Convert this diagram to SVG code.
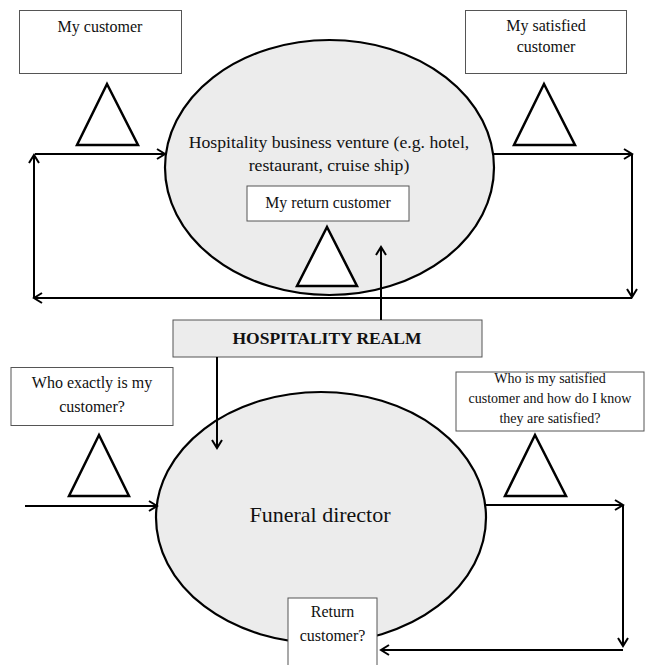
<svg xmlns="http://www.w3.org/2000/svg" width="645" height="665" viewBox="0 0 645 665">
<style>
text{font-family:"Liberation Serif","Times New Roman",serif;fill:#111;text-anchor:middle}
.box{fill:#fff;stroke:#555;stroke-width:1}
.ell{fill:#ececec;stroke:#000;stroke-width:2.2}
.tri{fill:#fff;stroke:#000;stroke-width:2.5;stroke-linejoin:miter}
.conn{fill:none;stroke:#000;stroke-width:2}
.t16{font-size:16px}
.t14{font-size:14px}
</style>
<defs>
<marker id="ah" markerWidth="12" markerHeight="12" refX="10" refY="6" orient="auto" markerUnits="userSpaceOnUse">
<path d="M2,1 L10,6 L2,11" fill="none" stroke="#000" stroke-width="2"/>
</marker>
</defs>

<g id="hospitality-venture">
<ellipse class="ell" cx="329.5" cy="167.5" rx="164.5" ry="127.5"/>
<text x="329" y="148" style="font-size:17.7px">Hospitality business venture (e.g. hotel,</text>
<text x="329" y="171" style="font-size:17.7px">restaurant, cruise ship)</text>
</g>
<g id="my-return-customer">
<rect class="box" x="247" y="186" width="162" height="35"/>
<text x="328" y="208" style="font-size:15.8px">My return customer</text>
</g>
<g id="my-customer">
<rect class="box" x="19.5" y="10.5" width="162" height="63"/>
<text class="t16" x="100" y="32">My customer</text>
</g>
<g id="my-satisfied-customer">
<rect class="box" x="465.5" y="10.5" width="161" height="63"/>
<text class="t16" x="546" y="31">My satisfied</text>
<text class="t16" x="546" y="52">customer</text>
</g>
<g id="tri-top-left"><polygon class="tri" points="107,84 138,145 77,145"/></g>
<g id="tri-top-right"><polygon class="tri" points="544,84 575,145 514,145"/></g>
<g id="tri-top-mid"><polygon class="tri" points="327,227 357,286 297,286"/></g>

<g id="hospitality-realm">
<rect x="173" y="320" width="309" height="37" fill="#ececec" stroke="#555" stroke-width="1"/>
<text x="327" y="343.5" style="font-size:17.5px;font-weight:bold">HOSPITALITY REALM</text>
</g>

<g id="funeral-director">
<ellipse class="ell" cx="321" cy="517.5" rx="165" ry="125.5"/>
<text x="320" y="522" style="font-size:22px">Funeral director</text>
</g>
<g id="who-exactly">
<rect class="box" x="11" y="367.5" width="162" height="58"/>
<text class="t16" x="92" y="388">Who exactly is my</text>
<text class="t16" x="92" y="412">customer?</text>
</g>
<g id="who-satisfied">
<rect class="box" x="456" y="372" width="188" height="59"/>
<text class="t14" x="550" y="383">Who is my satisfied</text>
<text class="t14" x="550" y="403">customer and how do I know</text>
<text class="t14" x="550" y="423">they are satisfied?</text>
</g>
<g id="return-customer">
<rect class="box" x="288" y="598" width="89" height="70"/>
<text class="t16" x="332.5" y="617">Return</text>
<text class="t16" x="332.5" y="641">customer?</text>
</g>
<g id="tri-bottom-left"><polygon class="tri" points="99,435 129,496 69,496"/></g>
<g id="tri-bottom-right"><polygon class="tri" points="535,435 566,496 505,496"/></g>

<g id="connectors">
<polyline class="conn" points="35,154 165,154" marker-end="url(#ah)"/>
<polyline class="conn" points="494,154 632,154" marker-end="url(#ah)"/>
<polyline class="conn" points="632,154 632,297" marker-end="url(#ah)"/>
<polyline class="conn" points="632,298 34,298" marker-end="url(#ah)"/>
<polyline class="conn" points="34,298 34,155" marker-end="url(#ah)"/>
<polyline class="conn" points="381,320 381,247" marker-end="url(#ah)"/>
<polyline class="conn" points="217,357 217,448" marker-end="url(#ah)"/>
<polyline class="conn" points="25,506 157,506" marker-end="url(#ah)"/>
<polyline class="conn" points="486,505 623,505" marker-end="url(#ah)"/>
<polyline class="conn" points="623,505 623,646" marker-end="url(#ah)"/>
<polyline class="conn" points="623,650 381,650" marker-end="url(#ah)"/>
</g>
</svg>
